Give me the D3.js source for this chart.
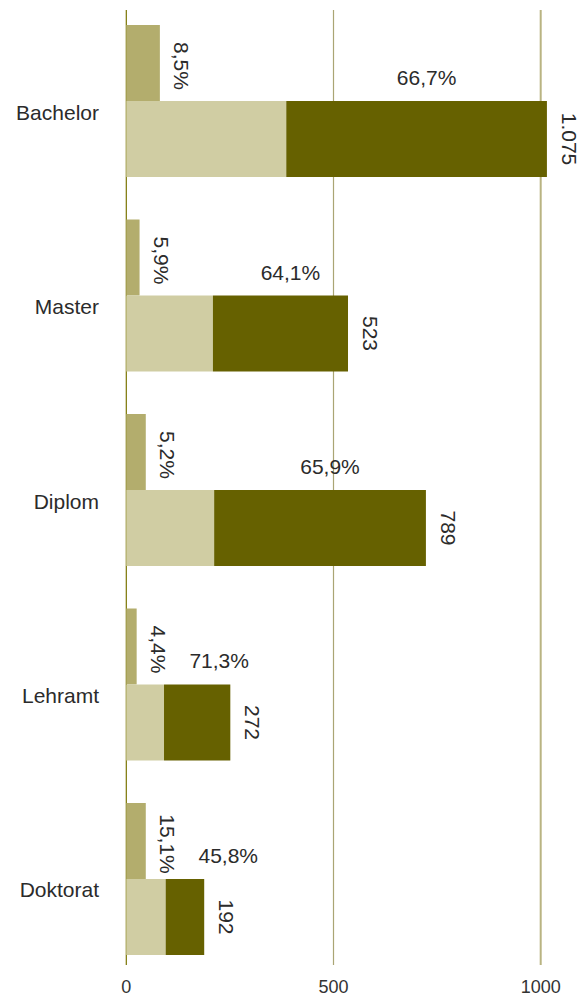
<!DOCTYPE html>
<html>
<head>
<meta charset="utf-8">
<script src="https://cdn.jsdelivr.net/npm/d3@7"></script>
<style>
  html, body { margin: 0; padding: 0; background: #fff; }
  svg { display: block; font-family: "Liberation Sans", Arial, Helvetica, sans-serif; }
</style>
</head>
<body>
<svg id="chart" width="581" height="998"></svg>
<script>
// categories and values
var categories = ['Bachelor', 'Master', 'Diplom', 'Lehramt', 'Doktorat'];
var smallBar   = [81, 32, 47, 25, 47];       // upper bar
var lightPart  = [386, 209, 212, 91, 95];    // lower bar, first segment
var darkPart   = [629, 326, 511, 160, 93];   // lower bar, second segment
var smallPct   = ['8,5%', '5,9%', '5,2%', '4,4%', '15,1%'];
var darkPct    = ['66,7%', '64,1%', '65,9%', '71,3%', '45,8%'];
var totals     = ['1.075', '523', '789', '272', '192'];
var ticks      = [0, 500, 1000];

var svg = d3.select('#chart');

var x = d3.scaleLinear().domain([0, 1000]).range([126.3, 540.7]);
var y = d3.scaleBand().domain(categories).range([25, 955]).paddingInner(0.2185).paddingOuter(0);
var half = y.bandwidth() / 2;

var rows = categories.map(function (c, i) {
    return {cat: c, small: smallBar[i], light: lightPart[i], dark: darkPart[i],
            sp: smallPct[i], dp: darkPct[i], total: totals[i]};
});

// gridlines
var grid = svg.append('g');
grid.selectAll('line').data(ticks).enter().append('line')
    .attr('x1', function (d) { return x(d); })
    .attr('x2', function (d) { return x(d); })
    .attr('y1', 10).attr('y2', 965)
    .attr('stroke', function (d) { return d === 0 ? '#7a7400' : (d === 500 ? '#aaa574' : '#b9b482'); })
    .attr('stroke-width', function (d) { return d === 1000 ? 2 : 1.2; });

grid.selectAll('text').data(ticks).enter().append('text')
    .attr('x', function (d) { return x(d); })
    .attr('y', 993)
    .attr('text-anchor', 'middle')
    .attr('font-size', 18)
    .attr('fill', '#333')
    .text(function (d) { return d; });

var g = svg.selectAll('g.row').data(rows).enter().append('g').attr('class', 'row');

// upper bar
g.append('rect')
    .attr('x', x(0))
    .attr('y', function (d) { return y(d.cat); })
    .attr('width', function (d) { return x(d.small) - x(0); })
    .attr('height', half)
    .attr('fill', '#b3ad6d');

// lower stacked bar
g.append('rect')
    .attr('x', x(0))
    .attr('y', function (d) { return y(d.cat) + half; })
    .attr('width', function (d) { return x(d.light) - x(0); })
    .attr('height', half)
    .attr('fill', '#d0cda3');

g.append('rect')
    .attr('x', function (d) { return x(d.light); })
    .attr('y', function (d) { return y(d.cat) + half; })
    .attr('width', function (d) { return x(d.light + d.dark) - x(d.light); })
    .attr('height', half)
    .attr('fill', '#666100');

var fs = 21;

// category labels
g.append('text')
    .attr('x', 99)
    .attr('y', function (d) { return y(d.cat) + half + 18.5; })
    .attr('text-anchor', 'end')
    .attr('font-size', fs)
    .attr('fill', '#2b2b2b')
    .text(function (d) { return d.cat; });

// rotated percentage of upper bar
g.append('text')
    .attr('transform', function (d) {
        return 'translate(' + (x(d.small) + 14.5) + ',' + (y(d.cat) + half / 2 + 3) + ') rotate(90)';
    })
    .attr('text-anchor', 'middle')
    .attr('font-size', fs)
    .attr('fill', '#2b2b2b')
    .text(function (d) { return d.sp; });

// percentage above the dark segment, pushed right of the rotated label if needed
g.append('text')
    .attr('x', function (d) {
        var mid = (x(d.light) + x(d.light + d.dark)) / 2;
        var minLeft = x(d.small) + 14.5 + 15 + 24;
        var w = 58;
        return Math.max(mid + 10, minLeft + w / 2);
    })
    .attr('y', function (d) { return y(d.cat) + half - 16; })
    .attr('text-anchor', 'middle')
    .attr('font-size', fs)
    .attr('fill', '#2b2b2b')
    .text(function (d) { return d.dp; });

// rotated totals
g.append('text')
    .attr('transform', function (d) {
        return 'translate(' + (x(d.light + d.dark) + 15) + ',' + (y(d.cat) + half * 1.5) + ') rotate(90)';
    })
    .attr('text-anchor', 'middle')
    .attr('font-size', fs)
    .attr('fill', '#2b2b2b')
    .text(function (d) { return d.total; });
</script>
</body>
</html>
